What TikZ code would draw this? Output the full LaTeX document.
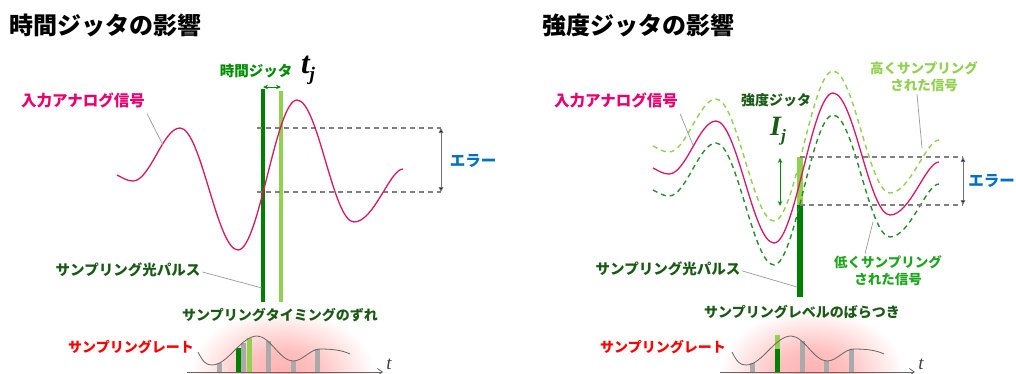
\documentclass[tikz,border=0pt]{standalone}
\usepackage{fontspec}
\setmainfont{Noto Sans CJK JP}
\newfontfamily\ser{Liberation Serif}
\usetikzlibrary{arrows.meta}
\definecolor{mag}{RGB}{232,0,110}
\definecolor{wavec}{RGB}{215,25,100}
\definecolor{dgreen}{RGB}{0,128,0}
\definecolor{dgtext}{RGB}{25,90,20}
\definecolor{lgreen}{RGB}{146,208,80}
\definecolor{lowgreen}{RGB}{40,140,40}
\definecolor{lowtext}{RGB}{30,165,30}
\definecolor{jgreen}{RGB}{0,140,0}
\definecolor{eblue}{RGB}{0,112,192}
\definecolor{barg}{RGB}{170,170,170}
\pgfdeclareradialshading{glow}{\pgfpoint{0bp}{0bp}}{color(0bp)=(red!30); color(9bp)=(red!25); color(25bp)=(white); color(50bp)=(white)}
\newcommand\mainwave{(117,175) .. controls (123,178) and (127,181) .. (133,181) .. controls (150,181) and (163,128) .. (180,128) .. controls (201,128) and (217,250) .. (238,250) .. controls (259,250) and (276,100) .. (297,100) .. controls (318,100) and (333,222) .. (354,222) .. controls (374,222) and (390,169) .. (403,169)}
\newcommand\miniwave{(198,352) .. controls (203,362) and (206,365) .. (212,365) .. controls (228,365) and (241,336) .. (257,336) .. controls (270,336) and (280,361) .. (293,361) .. controls (303,361) and (310,349) .. (320,349) .. controls (331,349) and (342,350) .. (350,354)}
\newcommand\mathsym[3]{{\ser\bfseries\itshape\fontsize{#1}{#1}\selectfont #2\raisebox{-0.22em}{\fontsize{0.62\dimexpr#1pt\relax}{1}\selectfont #3}}}
\begin{document}
\begin{tikzpicture}[x=1pt,y=-1pt,
  lbl/.style={inner sep=0pt, font=\bfseries\fontsize{14}{17}\selectfont},
  lbll/.style={inner sep=0pt, font=\bfseries\fontsize{15.5}{18}\selectfont},
  ttl/.style={inner sep=0pt, font=\bfseries\fontsize{24}{28}\selectfont, text=black},
  wave/.style={draw=wavec, line width=1.3pt},
  hiwave/.style={draw=lgreen, line width=1.4pt, dash pattern=on 5pt off 4pt},
  lowave/.style={draw=lowgreen, line width=1.4pt, dash pattern=on 5pt off 4pt},
  dashln/.style={draw=black!50, line width=1.2pt, dash pattern=on 5pt off 4pt},
  leader/.style={draw=black!40, line width=0.7pt},
  errarrow/.style={draw=black!55, line width=0.9pt, {Triangle[length=5pt,width=4.5pt,fill=black]}-{Triangle[length=5pt,width=4.5pt,fill=black]}},
  jarrow/.style={draw=jgreen, line width=0.9pt, {Stealth[length=5pt,width=4.5pt]}-{Stealth[length=5pt,width=4.5pt]}},
  axisarrow/.style={draw=black!60, line width=0.8pt, -{Straight Barb[length=5pt,width=7pt]}},
  bar/.style={line width=5pt},
]
\useasboundingbox (0,0) rectangle (1016,373);
\clip (0,0) rectangle (1016,373);

% ---------- glows ----------
\shade[shading=glow] (282,372) ellipse [x radius=92pt, y radius=62pt];
\shade[shading=glow] (812,372) ellipse [x radius=92pt, y radius=62pt];

% ================= LEFT PANEL =================
\node[ttl, anchor=west] (title1) at (9,25) {時間ジッタの影響};

% pulses
\coordinate (p1t) at (263,89);
\coordinate (p1b) at (263,302);
\coordinate (p2t) at (281,91);
\coordinate (p2b) at (281,302);
\draw[draw=dgreen, line width=3.6pt] (p1t) -- (p1b);
\draw[draw=lgreen, line width=3.6pt] (p2t) -- (p2b);

% dashed levels and error bracket
\coordinate (d1s) at (257,128);
\coordinate (d2s) at (257,192);
\coordinate (e1t) at (441,128);
\coordinate (e1b) at (441,192);
\draw[dashln] (d1s) -- (e1t);
\draw[dashln] (d2s) -- (e1b);
\draw[errarrow] (e1t) -- (e1b);
\node[lbll, text=eblue] (err1) at (473,161) {エラー};

% wave
\draw[wave] \mainwave;

% jitter label
\coordinate (ja) at (263,87);
\coordinate (jb) at (281,87);
\draw[jarrow] (ja) -- (jb);
\node[lbl, text=jgreen, font=\bfseries\fontsize{14.5}{17}\selectfont] (tjl) at (256,71) {時間ジッタ};
\node[inner sep=0pt] (tj) at (308,70) {\mathsym{31}{t}{j}};

% labels
\node[lbll, text=mag] (in1) at (83,100) {入力アナログ信号};
\coordinate (in1e) at (163,145);
\draw[leader] ([shift={(2pt,-6pt)}]in1.south east) -- (in1e);

\node[lbl, text=dgtext, font=\bfseries\fontsize{14.5}{17}\selectfont] (pl1) at (128,270) {サンプリング光パルス};
\coordinate (pl1e) at (262,288);
\draw[leader] ([shift={(2pt,-2pt)}]pl1.east) -- (pl1e);

\node[lbl, text=dgtext] (tm1) at (280,315) {サンプリングタイミングのずれ};

% bottom mini plot
\node[lbl, text=red] (sr1) at (131,347) {サンプリングレート};
\draw[bar, draw=barg] (219,363) -- (219,372);
\draw[bar, draw=barg] (243,343) -- (243,372);
\draw[bar, draw=dgreen] (238,348) -- (238,372);
\draw[bar, draw=lgreen] (249,338) -- (249,372);
\draw[bar, draw=barg] (268,341) -- (268,372);
\draw[bar, draw=barg] (293,361) -- (293,372);
\draw[bar, draw=barg] (317,349) -- (317,372);
\draw[draw=black!60, line width=0.8pt] \miniwave;
\coordinate (ax1s) at (187,372);
\coordinate (ax1e) at (383,372);
\draw[axisarrow] (ax1s) -- (ax1e);
\node[inner sep=0pt, font=\ser\itshape\fontsize{19}{19}\selectfont, text=black!75] (tax1) at (389,364) {t};

% ================= RIGHT PANEL =================
\node[ttl, anchor=west] (title2) at (542,25) {強度ジッタの影響};

% pulse bar
\coordinate (q1t) at (800,157);
\coordinate (q1m) at (800,205);
\coordinate (q1b) at (800,297);
\draw[draw=lgreen, line width=6pt] (q1t) -- (q1m);
\draw[draw=dgreen, line width=6pt] (q1m) -- (q1b);

% waves
\begin{scope}[shift={(536,-29)}]
  \draw[hiwave] \mainwave;
\end{scope}
\begin{scope}[shift={(536,15)}]
  \draw[lowave] \mainwave;
\end{scope}
\begin{scope}[shift={(536,-7)}]
  \draw[wave] \mainwave;
\end{scope}

% dashed levels and error bracket
\coordinate (e2t) at (963,157);
\coordinate (e2b) at (963,205);
\draw[dashln] (q1t) -- (e2t);
\draw[dashln] (q1m) -- (e2b);
\draw[errarrow] (e2t) -- (e2b);
\node[lbll, text=eblue, anchor=east] (err2) at (1015,181) {エラー};

% intensity jitter
\coordinate (ia) at (780,158);
\coordinate (ib) at (780,206);
\draw[jarrow] (ia) -- (ib);
\node[lbl, text=dgtext] (ijl) at (776,100) {強度ジッタ};
\node[inner sep=0pt, text=dgtext] (ij) at (778,131) {\mathsym{28}{I}{j}};

% labels
\node[lbll, text=mag] (in2) at (616,100) {入力アナログ信号};
\coordinate (in2e) at (693,145);
\draw[leader] ([shift={(2pt,-6pt)}]in2.south east) -- (in2e);

\node[lbl, text=lgreen, align=center, font=\bfseries\fontsize{13.5}{17}\selectfont] (hi) at (924,77) {高くサンプリング\\された信号};
\coordinate (hie) at (922,148);
\draw[leader] ([xshift=-7pt, yshift=-2pt]hi.south) -- (hie);

\node[lbl, text=lowtext, align=center, font=\bfseries\fontsize{13.5}{17}\selectfont] (lo) at (888,271) {低くサンプリング\\された信号};
\coordinate (loe) at (873,222);
\draw[leader] ([xshift=-23pt, yshift=2pt]lo.north) -- (loe);

\node[lbl, text=dgtext, font=\bfseries\fontsize{14.5}{17}\selectfont] (pl2) at (668,269) {サンプリング光パルス};
\coordinate (pl2e) at (797,287);
\draw[leader] ([shift={(2pt,-2pt)}]pl2.east) -- (pl2e);

\node[lbl, text=dgtext] (lv2) at (802,312) {サンプリングレベルのばらつき};

% bottom mini plot
\node[lbl, text=red] (sr2) at (663,347) {サンプリングレート};
\begin{scope}[shift={(534,0)}]
  \draw[bar, draw=barg] (218,363) -- (218,372);
  \draw[bar, draw=dgreen] (243,349) -- (243,372);
  \draw[bar, draw=lgreen] (243,335) -- (243,349);
  \draw[bar, draw=barg] (268,341) -- (268,372);
  \draw[bar, draw=barg] (292,361) -- (292,372);
  \draw[bar, draw=barg] (317,349) -- (317,372);
  \draw[draw=black!60, line width=0.8pt] \miniwave;
\end{scope}
\coordinate (ax2s) at (720,372);
\coordinate (ax2e) at (915,372);
\draw[axisarrow] (ax2s) -- (ax2e);
\node[inner sep=0pt, font=\ser\itshape\fontsize{19}{19}\selectfont, text=black!75] (tax2) at (921,364) {t};
\end{tikzpicture}
\end{document}
